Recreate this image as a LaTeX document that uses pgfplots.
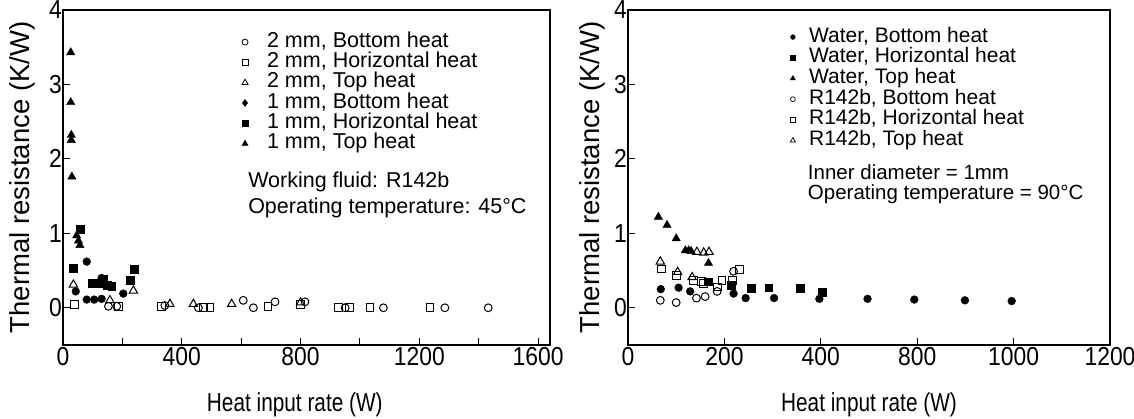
\documentclass[border=0pt]{standalone}
\usepackage{fontspec}
\setmainfont{Liberation Sans}
\newfontfamily\tickfont[FakeStretch=0.88]{Liberation Sans}
\newfontfamily\titlefont[FakeStretch=0.8]{Liberation Sans}
\usepackage{pgfplots}
\pgfplotsset{compat=1.18}
\begin{document}
\begin{tikzpicture}[x=1pt,y=1pt]
\path[use as bounding box] (0,0) rectangle (1134,419);
\pgfplotsset{
  myaxis/.style={
    scale only axis, height=335pt,
    axis line style={line width=1.5pt},
    tick align=inside, xtick pos=left, ytick pos=left,
    major tick length=7pt, tick style={line width=1pt, black},
    ymin=-0.5, ymax=4, ytick={0,1,2,3,4},
    /pgf/number format/assume math mode=true,
    ticklabel style={font=\tickfont\fontsize{26}{26}\selectfont},
    yticklabel style={inner xsep=1pt},
    xticklabel style={inner ysep=2pt},
    xlabel style={font=\titlefont\fontsize{26}{26}\selectfont, anchor=center},
    ylabel style={font=\fontsize{27.5}{27.5}\selectfont, anchor=center},
    legend cell align=left,
    legend style={draw=none, fill=none, inner sep=0pt, outer sep=0pt,
      row sep=0.3pt, font=\fontsize{21.5}{21.5}\selectfont,
      nodes={inner sep=0pt, text height=15pt, text depth=5pt}},
    op/.style={only marks, line width=1pt, mark size=3.9pt, forget plot},
    fp/.style={only marks, mark size=3.9pt, forget plot},
  }
}
% ---------------- left axis ----------------
\begin{axis}[myaxis, at={(63pt,74pt)}, anchor=south west, width=487pt,
  xmin=0, xmax=1640, xtick={0,200,...,1600},
  xticklabels={0,,400,,800,,1200,,1600},
  xlabel={Heat input rate (W)}, ylabel={Thermal resistance (K/W)},
  xlabel style={at={(axis description cs:0.476,-0.179)}},
  ylabel style={at={(axis description cs:-0.084,0.5)}},
  legend style={at={(axis description cs:0.3676,0.934)}, anchor=north west,
    /tikz/every odd column/.append style={column sep=19pt}},
]
\addplot[op, mark=o] coordinates {(153,0.02) (181,0.02) (343,0.03) (456,0.0) (607,0.1) (641,0.0) (714,0.08) (815,0.08) (950,0.0) (1079,0.0) (1286,0.0) (1432,0.0)};
\addplot[op, mark=square] coordinates {(38,0.04) (186,0.02) (332,0.02) (473,0.0) (495,0.0) (690,0.02) (800,0.04) (927,0.0) (966,0.0) (1034,0.0) (1236,0.0)};
\addplot[op, mark=triangle, mark size=4.8pt] coordinates {(35,0.31) (158,0.1) (237,0.23) (360,0.05) (439,0.05) (568,0.05) (800,0.07)};
\addplot[fp, mark=*] coordinates {(43,0.22) (80,0.62) (80,0.11) (105,0.11) (130,0.12) (130,0.40) (203,0.19)};
\addplot[fp, mark=square*] coordinates {(35,0.53) (57,1.06) (97,0.33) (113,0.33) (125,0.33) (136,0.38) (150,0.30) (164,0.29) (226,0.37) (239,0.52)};
\addplot[fp, mark=triangle*, mark size=4.8pt] coordinates {(26,3.43) (26,2.76) (28,2.32) (28,2.25) (30,1.76) (46,0.97) (52,0.90) (57,0.84)};
\addlegendimage{only marks, mark=o, mark size=3pt, line width=0.8pt}
\addlegendentry{2 mm, Bottom heat}
\addlegendimage{only marks, mark=square, mark size=3pt, line width=0.8pt}
\addlegendentry{2 mm, Horizontal heat}
\addlegendimage{only marks, mark=triangle, mark size=3.5pt, line width=0.8pt}
\addlegendentry{2 mm, Top heat}
\addlegendimage{only marks, mark=diamond*, mark size=3.5pt}
\addlegendentry{1 mm, Bottom heat}
\addlegendimage{only marks, mark=square*, mark size=3pt}
\addlegendentry{1 mm, Horizontal heat}
\addlegendimage{only marks, mark=triangle*, mark size=3.5pt}
\addlegendentry{1 mm, Top heat}
\node[anchor=base west, inner sep=0pt, font=\fontsize{21.5}{21.5}\selectfont] at (axis description cs:0.380,0.4716) {Working fluid: R142b};
\node[anchor=base west, inner sep=0pt, font=\fontsize{21.5}{21.5}\selectfont] at (axis description cs:0.380,0.394) {Operating temperature: 45°C};
\end{axis}
% ---------------- right axis ----------------
\begin{axis}[myaxis, at={(628pt,74pt)}, anchor=south west, width=482pt,
  xmin=0, xmax=1000, xtick={0,200,...,1000},
  xticklabels={0,200,400,800,1000,1200},
  xlabel={Heat input rate (W)}, ylabel={Thermal resistance (K/W)},
  xlabel style={at={(axis description cs:0.5,-0.179)}},
  ylabel style={at={(axis description cs:-0.073,0.5)}},
  legend style={at={(axis description cs:0.3367,0.949)}, anchor=north west,
    font=\fontsize{21}{21}\selectfont, row sep=0.7pt,
    /tikz/every odd column/.append style={column sep=13.6pt}},
]
\addplot[fp, mark=*] coordinates {(68,0.25) (105,0.27) (129,0.22) (219,0.19) (244,0.13) (303,0.13) (397,0.12) (497,0.12) (594,0.11) (699,0.10) (796,0.09)};
\addplot[fp, mark=square*] coordinates {(167,0.35) (214,0.30) (255,0.26) (292,0.27) (357,0.26) (403,0.21)};
\addplot[fp, mark=triangle*, mark size=4.8pt] coordinates {(63,1.22) (81,1.11) (100,0.93) (119,0.77) (126,0.77) (131,0.76) (167,0.60)};
\addplot[op, mark=o] coordinates {(67,0.10) (100,0.07) (142,0.13) (160,0.15) (185,0.22) (219,0.49)};
\addplot[op, mark=square] coordinates {(70,0.52) (101,0.43) (136,0.37) (153,0.35) (157,0.33) (195,0.37) (216,0.37) (232,0.51) (185,0.28)};
\addplot[op, mark=triangle, mark size=4.8pt] coordinates {(67,0.62) (103,0.48) (133,0.41) (143,0.75) (157,0.74) (168,0.75)};
\addlegendimage{only marks, mark=*, mark size=2.4pt}
\addlegendentry{Water, Bottom heat}
\addlegendimage{only marks, mark=square*, mark size=2.4pt}
\addlegendentry{Water, Horizontal heat}
\addlegendimage{only marks, mark=triangle*, mark size=3pt}
\addlegendentry{Water, Top heat}
\addlegendimage{only marks, mark=o, mark size=2.4pt, line width=0.7pt}
\addlegendentry{R142b, Bottom heat}
\addlegendimage{only marks, mark=square, mark size=2.4pt, line width=0.7pt}
\addlegendentry{R142b, Horizontal heat}
\addlegendimage{only marks, mark=triangle, mark size=3pt, line width=0.7pt}
\addlegendentry{R142b, Top heat}
\node[anchor=base west, inner sep=0pt, font=\fontsize{20.5}{20.5}\selectfont] at (axis description cs:0.373,0.4955) {Inner diameter = 1mm};
\node[anchor=base west, inner sep=0pt, font=\fontsize{20.5}{20.5}\selectfont] at (axis description cs:0.373,0.433) {Operating temperature = 90°C};
\end{axis}
\end{tikzpicture}
\end{document}
